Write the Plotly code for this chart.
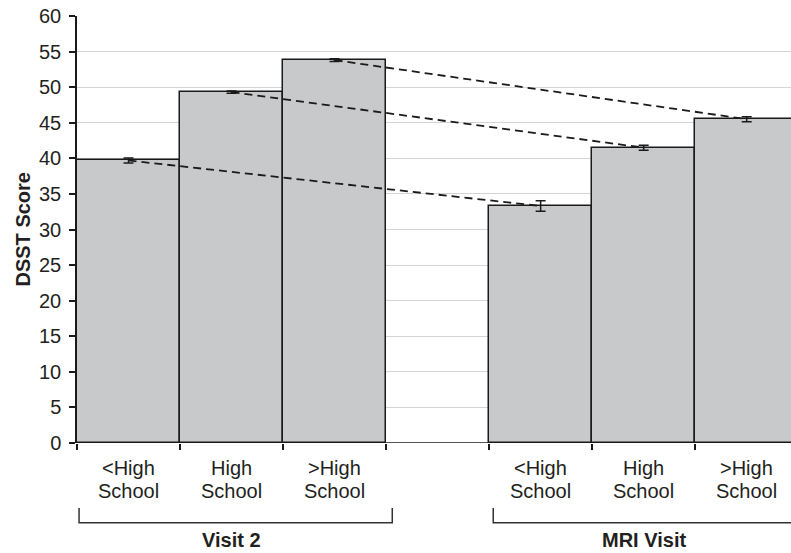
import plotly.graph_objects as go

# ---- data ----
x_pos = [0, 1, 2, 4, 5, 6]
edu_line1 = ["&lt;High", "High", "&gt;High", "&lt;High", "High", "&gt;High"]
edu_line2 = ["School", "School", "School", "School", "School", "School"]
scores = [39.7, 49.3, 53.8, 33.3, 41.5, 45.5]
errors = [0.35, 0.15, 0.2, 0.75, 0.35, 0.35]
visit_labels = ["Visit 2", "MRI Visit"]
visit_centers = [1, 5]
visit_spans = [(-0.48, 2.56), (3.54, 6.58)]
y_ticks = list(range(0, 61, 5))

FONT = "Arial, Liberation Sans, sans-serif"
TXT = "#231f20"
LINE = "#1a1a1a"

fig = go.Figure()

fig.add_trace(go.Bar(
    x=x_pos, y=scores, width=1,
    marker=dict(color="#c8c9cb", line=dict(color=LINE, width=1.5)),
    error_y=dict(type="data", array=errors, color=LINE, thickness=1.5, width=5),
    showlegend=False, hoverinfo="skip",
))

# dashed connectors between matching education groups
for i in range(3):
    fig.add_trace(go.Scatter(
        x=[x_pos[i], x_pos[i + 3]], y=[scores[i], scores[i + 3]],
        mode="lines", line=dict(color=LINE, width=1.8, dash="8px,5px"),
        showlegend=False, hoverinfo="skip",
    ))

# baseline along y = 0 (coincides with bar bottoms)
fig.add_shape(type="line", xref="paper", yref="y", x0=0, x1=1, y0=0, y1=0,
              line=dict(color=LINE, width=1.5), layer="above")

# category labels (two lines each)
for xp, l1, l2 in zip(x_pos, edu_line1, edu_line2):
    for txt, shift in ((l1, -25), (l2, -48)):
        fig.add_annotation(x=xp, y=0, xref="x", yref="paper", text=txt,
                           showarrow=False, yanchor="middle", yshift=shift,
                           font=dict(family=FONT, size=20, color=TXT))

# group brackets and labels
for (x0, x1), xc, lab in zip(visit_spans, visit_centers, visit_labels):
    fig.add_shape(type="path", xref="x", yref="paper",
                  path=f"M {x0},-0.152 L {x0},-0.187 L {x1},-0.187 L {x1},-0.152",
                  line=dict(color="#333", width=1.5))
    fig.add_annotation(x=xc, y=0, xref="x", yref="paper", text=f"<b>{lab}</b>",
                       showarrow=False, yanchor="middle", yshift=-97,
                       font=dict(family=FONT, size=20, color=TXT))

fig.add_annotation(x=0, y=0.5, xref="paper", yref="paper", text="<b>DSST Score</b>",
                   textangle=-90, showarrow=False, xanchor="center", xshift=-55,
                   font=dict(family=FONT, size=20, color=TXT))

fig.update_layout(
    width=791, height=553,
    margin=dict(l=77, r=0, t=16, b=110),
    paper_bgcolor="white", plot_bgcolor="white",
    bargap=0,
    font=dict(family=FONT, size=20, color=TXT),
    xaxis=dict(range=[-0.5, 6.43], showgrid=False, zeroline=False,
               showline=False,
               tickmode="array", tickvals=x_pos, ticktext=[""] * len(x_pos), ticks="",
               minor=dict(tick0=-0.5, dtick=1, ticks="outside", ticklen=6,
                          tickcolor=LINE, tickwidth=1.5, showgrid=False)),
    yaxis=dict(range=[0, 60], tickmode="array", tickvals=y_ticks,
               showgrid=True, gridcolor="#d4d4d4", gridwidth=1.2, zeroline=False,
               showline=True, linecolor=LINE, linewidth=1.5,
               ticks="outside", ticklen=6, tickcolor=LINE, tickwidth=1.5,
               ticklabelstandoff=4, automargin=False,
               tickfont=dict(family=FONT, size=20, color=TXT)),
)

fig.write_html("out.html", config={"displayModeBar": False},
               post_script="document.body.style.margin='0';document.body.style.padding='0';")
